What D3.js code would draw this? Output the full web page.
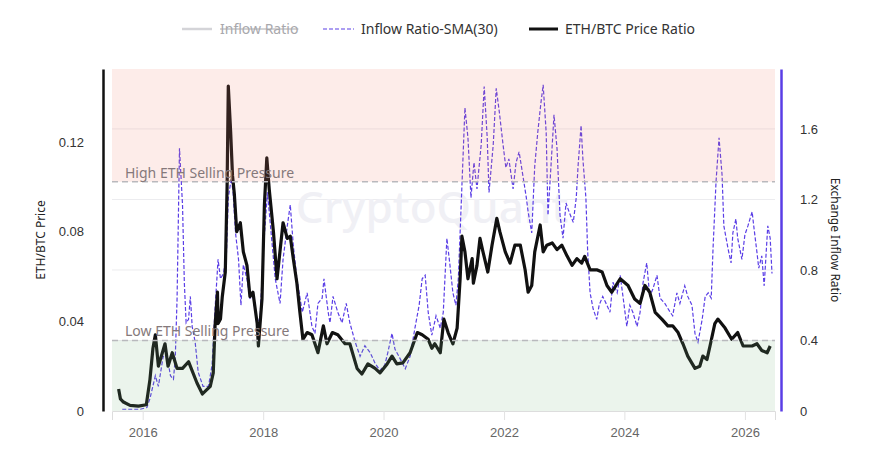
<!DOCTYPE html>
<html>
<head>
<meta charset="utf-8">
<title>ETH/BTC vs Exchange Inflow Ratio</title>
<script src="https://cdn.jsdelivr.net/npm/d3@7"></script>
<style>
body { margin: 0; background: #fff; }
svg { font-family: "Noto Sans", "Open Sans", sans-serif; }
.tick text { fill: #333; font-size: 13px; }
.xaxis .tick text { fill: #666; }
.legend text { font-size: 14px; fill: #333; }
</style>
</head>
<body>
<svg id="chart" width="892" height="460"></svg>
<script>
// time given as decimal year
var ethBtc = [
  [2015.60,0.0098],[2015.63,0.0054],[2015.68,0.0040],[2015.79,0.0025],[2015.93,0.0022],[2016.06,0.0028],
  [2016.12,0.014],[2016.17,0.028],[2016.21,0.034],[2016.26,0.020],[2016.37,0.030],[2016.42,0.020],
  [2016.49,0.026],[2016.57,0.019],[2016.66,0.019],[2016.76,0.022],[2016.90,0.0125],[2016.99,0.0076],
  [2017.12,0.011],[2017.17,0.017],[2017.20,0.038],[2017.24,0.053],[2017.25,0.039],[2017.29,0.041],
  [2017.32,0.051],[2017.37,0.062],[2017.40,0.100],[2017.42,0.145],[2017.46,0.124],[2017.49,0.105],
  [2017.52,0.097],[2017.56,0.080],[2017.62,0.084],[2017.67,0.071],[2017.73,0.065],[2017.78,0.051],
  [2017.83,0.053],[2017.90,0.039],[2017.92,0.029],[2017.98,0.050],[2018.02,0.092],[2018.06,0.113],
  [2018.10,0.099],[2018.17,0.080],[2018.23,0.059],[2018.33,0.084],[2018.40,0.077],[2018.45,0.078],
  [2018.50,0.068],[2018.56,0.057],[2018.61,0.044],[2018.66,0.032],[2018.73,0.035],[2018.81,0.034],
  [2018.91,0.026],[2019.00,0.038],[2019.06,0.030],[2019.15,0.035],[2019.24,0.034],[2019.36,0.030],
  [2019.44,0.030],[2019.56,0.019],[2019.64,0.0165],[2019.74,0.021],[2019.86,0.019],[2019.94,0.017],
  [2020.06,0.021],[2020.14,0.0245],[2020.22,0.021],[2020.32,0.0215],[2020.44,0.026],[2020.56,0.035],
  [2020.64,0.034],[2020.74,0.032],[2020.80,0.028],[2020.85,0.030],[2020.94,0.026],[2021.00,0.041],
  [2021.07,0.035],[2021.15,0.030],[2021.22,0.037],[2021.27,0.059],[2021.30,0.078],[2021.35,0.071],
  [2021.40,0.059],[2021.47,0.068],[2021.49,0.057],[2021.55,0.065],[2021.60,0.077],[2021.65,0.071],
  [2021.73,0.062],[2021.80,0.074],[2021.88,0.086],[2021.93,0.080],[2022.02,0.071],[2022.10,0.066],
  [2022.18,0.074],[2022.27,0.074],[2022.35,0.063],[2022.40,0.053],[2022.46,0.056],[2022.51,0.071],
  [2022.60,0.083],[2022.65,0.071],[2022.71,0.074],[2022.80,0.075],[2022.88,0.072],[2022.96,0.074],
  [2023.05,0.069],[2023.13,0.065],[2023.21,0.068],[2023.29,0.066],[2023.34,0.069],[2023.43,0.063],
  [2023.54,0.063],[2023.63,0.062],[2023.71,0.056],[2023.79,0.053],[2023.93,0.059],[2024.06,0.056],
  [2024.17,0.050],[2024.26,0.048],[2024.34,0.056],[2024.42,0.053],[2024.51,0.044],[2024.62,0.041],
  [2024.72,0.038],[2024.80,0.038],[2024.89,0.035],[2024.97,0.030],[2025.05,0.0245],[2025.17,0.019],
  [2025.25,0.020],[2025.30,0.0245],[2025.37,0.023],[2025.42,0.029],[2025.50,0.039],[2025.55,0.041],
  [2025.67,0.037],[2025.78,0.032],[2025.88,0.035],[2025.97,0.029],[2026.12,0.029],[2026.20,0.030],
  [2026.28,0.027],[2026.37,0.026],[2026.42,0.029]
];

var inflowSma = [
  [2015.66,0.01],[2015.79,0.01],[2015.96,0.01],[2016.07,0.02],[2016.12,0.07],[2016.21,0.20],
  [2016.26,0.14],[2016.34,0.31],[2016.41,0.30],[2016.46,0.20],[2016.51,0.18],[2016.54,0.30],
  [2016.57,0.64],[2016.61,1.49],[2016.66,1.17],[2016.69,0.73],[2016.72,0.50],[2016.76,0.52],
  [2016.79,0.65],[2016.82,0.48],[2016.87,0.39],[2016.92,0.22],[2017.00,0.14],[2017.09,0.14],
  [2017.15,0.26],[2017.20,0.58],[2017.25,0.86],[2017.29,0.75],[2017.34,0.78],[2017.39,0.90],
  [2017.42,1.21],[2017.47,1.32],[2017.50,1.24],[2017.54,1.01],[2017.59,0.86],[2017.63,0.60],
  [2017.67,0.83],[2017.73,0.75],[2017.78,0.64],[2017.83,0.65],[2017.90,0.48],[2017.95,0.54],
  [2018.00,0.90],[2018.07,1.24],[2018.10,1.13],[2018.15,0.94],[2018.20,0.75],[2018.28,0.61],
  [2018.33,0.86],[2018.40,1.05],[2018.45,1.17],[2018.50,0.94],[2018.56,0.75],[2018.65,0.56],
  [2018.73,0.67],[2018.81,0.48],[2018.86,0.44],[2018.91,0.61],[2018.98,0.64],[2019.01,0.75],
  [2019.08,0.56],[2019.11,0.50],[2019.16,0.65],[2019.24,0.56],[2019.31,0.50],[2019.38,0.61],
  [2019.44,0.50],[2019.53,0.39],[2019.61,0.31],[2019.69,0.37],[2019.78,0.33],[2019.86,0.27],
  [2019.94,0.23],[2020.02,0.26],[2020.07,0.33],[2020.14,0.44],[2020.19,0.35],[2020.27,0.30],
  [2020.36,0.24],[2020.44,0.31],[2020.52,0.47],[2020.59,0.60],[2020.64,0.75],[2020.69,0.77],
  [2020.74,0.56],[2020.80,0.43],[2020.87,0.54],[2020.94,0.47],[2020.99,0.56],[2021.05,0.98],
  [2021.10,0.83],[2021.15,0.67],[2021.20,0.60],[2021.24,0.75],[2021.30,1.28],[2021.35,1.72],
  [2021.40,1.55],[2021.45,1.21],[2021.50,1.41],[2021.55,1.26],[2021.62,1.51],[2021.67,1.84],
  [2021.72,1.55],[2021.75,1.24],[2021.82,1.51],[2021.87,1.83],[2021.92,1.70],[2021.98,1.52],
  [2022.03,1.38],[2022.08,1.43],[2022.15,1.26],[2022.20,1.41],[2022.25,1.47],[2022.32,1.32],
  [2022.37,1.21],[2022.40,1.13],[2022.46,1.01],[2022.51,1.39],[2022.56,1.58],[2022.61,1.74],
  [2022.65,1.85],[2022.70,1.58],[2022.73,1.11],[2022.78,1.39],[2022.83,1.68],[2022.88,1.49],
  [2022.93,1.11],[2022.98,0.98],[2023.03,1.18],[2023.08,1.13],[2023.15,1.07],[2023.20,1.21],
  [2023.23,1.39],[2023.28,1.62],[2023.31,1.43],[2023.36,1.21],[2023.39,0.90],[2023.43,0.67],
  [2023.48,0.58],[2023.54,0.52],[2023.58,0.60],[2023.64,0.65],[2023.71,0.60],[2023.76,0.56],
  [2023.81,0.73],[2023.88,0.67],[2023.93,0.77],[2023.98,0.64],[2024.04,0.48],[2024.09,0.60],
  [2024.14,0.56],[2024.21,0.48],[2024.26,0.56],[2024.31,0.73],[2024.37,0.84],[2024.42,0.65],
  [2024.47,0.69],[2024.54,0.77],[2024.59,0.64],[2024.67,0.61],[2024.76,0.56],[2024.80,0.54],
  [2024.87,0.67],[2024.92,0.61],[2025.00,0.71],[2025.05,0.65],[2025.12,0.60],[2025.17,0.44],
  [2025.22,0.39],[2025.29,0.52],[2025.34,0.65],[2025.39,0.67],[2025.44,0.64],[2025.47,0.92],
  [2025.52,1.30],[2025.57,1.55],[2025.62,1.34],[2025.65,1.05],[2025.72,0.92],[2025.77,0.84],
  [2025.80,1.01],[2025.85,1.09],[2025.88,0.98],[2025.95,0.86],[2026.00,1.00],[2026.05,1.05],
  [2026.12,1.13],[2026.15,1.04],[2026.20,0.90],[2026.23,0.81],[2026.28,0.88],[2026.32,0.71],
  [2026.38,1.05],[2026.42,0.98],[2026.45,0.78]
];

var xDomain = [2015.49, 2026.5];
var leftTicks = [0, 0.04, 0.08, 0.12];
var rightTicks = [0, 0.4, 0.8, 1.2, 1.6];
var leftMax = 0.1526, rightMax = 1.94;
var highLevel = 1.3, lowLevel = 0.4;

function toDate(t) {
  var y = Math.floor(t),
      a = Date.UTC(y, 0, 1),
      b = Date.UTC(y + 1, 0, 1);
  return new Date(a + (t - y) * (b - a));
}

var svg = d3.select("#chart");
var m = {left: 112, right: 117, top: 69, bottom: 49},
    W = 892, H = 460,
    x0 = m.left, x1 = W - m.right, y0 = H - m.bottom, y1 = m.top;

var x = d3.scaleUtc().domain(xDomain.map(toDate)).range([x0, x1]);
var yL = d3.scaleLinear().domain([0, leftMax]).range([y0, y1]);
var yR = d3.scaleLinear().domain([0, rightMax]).range([y0, y1]);

// grid (right axis)
svg.append("g").selectAll("line")
  .data(rightTicks.slice(1))
  .enter().append("line")
  .attr("x1", x0).attr("x2", x1)
  .attr("y1", function (d) { return yR(d); })
  .attr("y2", function (d) { return yR(d); })
  .attr("stroke", "#ececef").attr("stroke-width", 1);

// watermark
svg.append("text")
  .attr("x", 432).attr("y", 223)
  .attr("text-anchor", "middle")
  .style("font-size", "44px").style("font-weight", 500)
  .attr("fill", "#f0f0f5")
  .text("CryptoQuant");

// x axis
var xAxis = svg.append("g").attr("class", "xaxis")
  .attr("transform", "translate(0," + y0 + ")")
  .call(d3.axisBottom(x).ticks(d3.utcYear.every(2)).tickFormat(d3.utcFormat("%Y")).tickSize(9).tickPadding(8));
xAxis.select(".domain").attr("stroke", "#ddd");
xAxis.selectAll(".tick line").attr("stroke", "#e2e2e2");

// left axis
var lAxis = svg.append("g")
  .attr("transform", "translate(103,0)")
  .call(d3.axisLeft(yL).tickValues(leftTicks).tickSize(0).tickPadding(19).tickFormat(function (d) { return d === 0 ? "0" : d3.format(".2f")(d); }));
lAxis.select(".domain").attr("stroke", "#111").attr("stroke-width", 2.5);

// right axis
var rAxis = svg.append("g")
  .attr("transform", "translate(781,0)")
  .call(d3.axisRight(yR).tickValues(rightTicks).tickSize(0).tickPadding(19).tickFormat(function (d) { return d === 0 ? "0" : d3.format(".1f")(d); }));
rAxis.select(".domain").attr("stroke", "#5a3ee6").attr("stroke-width", 2.5);

svg.append("text")
  .attr("transform", "translate(45," + ((y0 + y1) / 2) + ") rotate(-90)")
  .attr("text-anchor", "middle")
  .style("font-size", "12px").attr("fill", "#222")
  .text("ETH/BTC Price");
svg.append("text")
  .attr("transform", "translate(831," + ((y0 + y1) / 2) + ") rotate(90)")
  .attr("text-anchor", "middle")
  .style("font-size", "12px").attr("fill", "#222")
  .text("Exchange Inflow Ratio");

// series
var smaLine = d3.line()
  .x(function (d) { return x(toDate(d[0])); })
  .y(function (d) { return yR(d[1]); });
var priceLine = d3.line()
  .x(function (d) { return x(toDate(d[0])); })
  .y(function (d) { return yL(d[1]); });

svg.append("path").datum(inflowSma)
  .attr("d", smaLine)
  .attr("fill", "none").attr("stroke", "#5a3ee6")
  .attr("stroke-width", 1.2).attr("stroke-dasharray", "4,2");
svg.append("path").datum(ethBtc)
  .attr("d", priceLine)
  .attr("fill", "none").attr("stroke", "#111")
  .attr("stroke-width", 3.2).attr("stroke-linejoin", "round");

// threshold areas, drawn on top with low alpha
svg.append("rect")
  .attr("x", x0).attr("width", x1 - x0)
  .attr("y", yR(rightMax)).attr("height", yR(highLevel) - yR(rightMax))
  .attr("fill", "rgb(240,130,110)").attr("fill-opacity", 0.15);
svg.append("rect")
  .attr("x", x0).attr("width", x1 - x0)
  .attr("y", yR(lowLevel)).attr("height", yR(0) - yR(lowLevel))
  .attr("fill", "rgb(120,180,130)").attr("fill-opacity", 0.15);

[highLevel, lowLevel].forEach(function (lv) {
  svg.append("line")
    .attr("x1", x0).attr("x2", x1)
    .attr("y1", yR(lv)).attr("y2", yR(lv))
    .attr("stroke", "#b9b9bd").attr("stroke-width", 1.5)
    .attr("stroke-dasharray", "6,4");
});
svg.append("text").attr("x", 125).attr("y", yR(highLevel) - 4)
  .style("font-size", "14px").attr("fill", "#85797b")
  .text("High ETH Selling Pressure");
svg.append("text").attr("x", 125).attr("y", yR(lowLevel) - 4)
  .style("font-size", "14px").attr("fill", "#85797b")
  .text("Low ETH Selling Pressure");

// legend
var lg = svg.append("g").attr("class", "legend");
var ly = 29;
lg.append("line").attr("x1", 182).attr("x2", 212).attr("y1", ly).attr("y2", ly)
  .attr("stroke", "#d4d4d8").attr("stroke-width", 2.5);
var t1 = lg.append("text").attr("x", 220).attr("y", ly + 5)
  .style("fill", "#a8a8ac").text("Inflow Ratio");
var bb = t1.node().getBBox();
lg.append("line").attr("x1", bb.x).attr("x2", bb.x + bb.width)
  .attr("y1", ly).attr("y2", ly).attr("stroke", "#a8a8ac").attr("stroke-width", 1);
lg.append("line").attr("x1", 323).attr("x2", 354).attr("y1", ly).attr("y2", ly)
  .attr("stroke", "#5a3ee6").attr("stroke-width", 1.2).attr("stroke-dasharray", "4,2");
lg.append("text").attr("x", 361).attr("y", ly + 5).text("Inflow Ratio-SMA(30)");
lg.append("line").attr("x1", 529).attr("x2", 558).attr("y1", ly).attr("y2", ly)
  .attr("stroke", "#111").attr("stroke-width", 3);
lg.append("text").attr("x", 565).attr("y", ly + 5).text("ETH/BTC Price Ratio");
</script>
</body>
</html>
